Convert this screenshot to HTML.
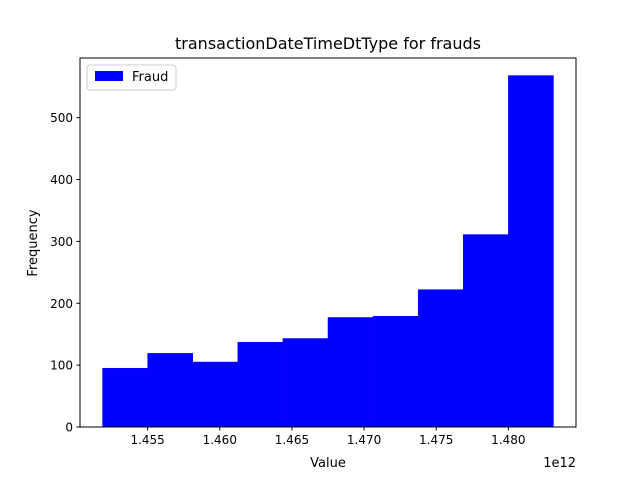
<!DOCTYPE html>
<html><head><meta charset="utf-8"><style>
body{margin:0;background:#fff;}
svg{font-family:"DejaVu Sans","Liberation Sans",sans-serif;}
</style></head><body>
<svg id="chart" width="640" height="480" viewBox="0 0 640 480">
<rect width="640" height="480" fill="#fff"/>
<g id="bars"></g>
<g id="axes"></g>
<text x="328" y="49" font-size="16" text-anchor="middle">transactionDateTimeDtType for frauds</text>
<text x="328" y="467" font-size="13" text-anchor="middle">Value</text>
<text x="37" y="243" font-size="13" text-anchor="middle" transform="rotate(-90 37 243)">Frequency</text>
<text x="576" y="467" font-size="13" text-anchor="end">1e12</text>
<g>
<rect x="87" y="65" width="89" height="25" rx="3" fill="#fff" stroke="#ccc"/>
<rect x="95" y="71" width="28" height="10" fill="#0000ff"/>
<text x="132" y="81" font-size="13">Fraud</text>
</g>
</svg>
<script>
const binStart = 1.451875;
const binWidth = 0.003125;
const counts = [95, 119, 105, 137, 143, 177, 179, 222, 311, 568];
const xTicks = [1.455, 1.460, 1.465, 1.470, 1.475, 1.480];
const xTickLabels = ["1.455","1.460","1.465","1.470","1.475","1.480"];
const yTicks = [0, 100, 200, 300, 400, 500];

const L=80,R=576,T=58,B=427;
const xMin = binStart - binWidth*counts.length*0.05;
const xMax = binStart + binWidth*counts.length*1.05;
const yMax = Math.max(...counts)*1.05;
const xs = v => L + (v - xMin)/(xMax - xMin)*(R-L);
const ys = v => B - v/yMax*(B-T);
const NS="http://www.w3.org/2000/svg";
const bars=document.getElementById('bars'), axes=document.getElementById('axes');
function mk(tag,attrs,parent){const e=document.createElementNS(NS,tag);for(const k in attrs)e.setAttribute(k,attrs[k]);parent.appendChild(e);return e;}
counts.forEach((c,i)=>{
  const x0=xs(binStart+i*binWidth), x1=xs(binStart+(i+1)*binWidth);
  const r=mk('rect',{x:x0,y:ys(c),width:x1-x0,height:B-ys(c),fill:'#0000ff',stroke:'#0000ff','stroke-width':0.5},bars);
  
  
});
const frame=mk('rect',{x:L,y:T,width:R-L,height:B-T,fill:'none',stroke:'#000','stroke-width':1},axes);


xTicks.forEach((t,i)=>{
  const x=xs(t);
  const l=mk('line',{x1:x,x2:x,y1:B,y2:B+3.5,stroke:'#000'},axes);
  
  
  const tx=mk('text',{x:x,y:B+17,'font-size':12,'text-anchor':'middle'},axes);
  tx.textContent=xTickLabels[i];
  
  
});
yTicks.forEach(t=>{
  const y=ys(t);
  const l=mk('line',{x1:L-3.5,x2:L,y1:y,y2:y,stroke:'#000'},axes);
  
  
  const tx=mk('text',{x:L-7,y:y+4.5,'font-size':12,'text-anchor':'end'},axes);
  tx.textContent=String(t);
  
  
});
</script>
</body></html>
